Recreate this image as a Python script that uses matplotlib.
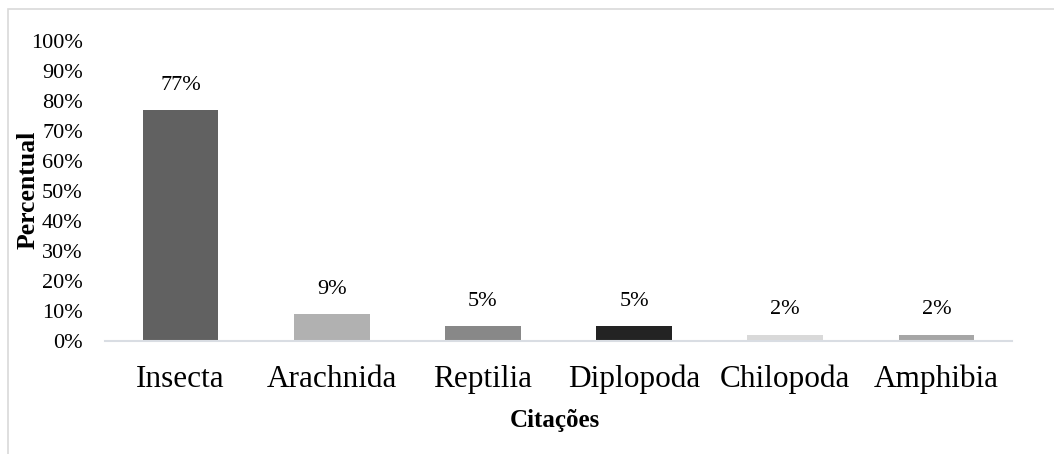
import matplotlib.pyplot as plt
from matplotlib.patches import Rectangle
from matplotlib.ticker import FuncFormatter

# Données
categories = ['Insecta', 'Arachnida', 'Reptilia', 'Diplopoda', 'Chilopoda', 'Amphibia']
valeurs = [0.77, 0.09, 0.05, 0.05, 0.02, 0.02]
etiquettes = ['77%', '9%', '5%', '5%', '2%', '2%']
couleurs = ['#616161', '#b1b1b1', '#888888', '#232323', '#d9d9d9', '#a6a6a6']

plt.rcParams['font.family'] = ['Liberation Serif', 'DejaVu Serif']

fig = plt.figure(figsize=(10.54, 4.54), dpi=100)
ax = fig.add_axes([105 / 1054, 1 - 341 / 454, 907 / 1054, 300 / 454])

x = list(range(len(categories)))
ax.bar(x, valeurs, width=0.5, color=couleurs)

# étiquettes au-dessus des barres
for xi, v, txt in zip(x, valeurs, etiquettes):
    ax.annotate(txt, (xi, v), xytext=(0, 18), textcoords='offset points',
                ha='center', va='center', fontsize=16)

ax.set_xlim(-0.5, 5.5)
ax.set_ylim(0, 1)
ax.set_yticks([i / 10 for i in range(11)])
ax.yaxis.set_major_formatter(FuncFormatter(lambda v, p: f"{round(v * 100)}%"))
ax.set_xticks(x)
ax.set_xticklabels(categories, fontsize=22.5)
ax.tick_params(axis='y', labelsize=16, length=0, pad=16)
ax.tick_params(axis='x', length=0, pad=17)

for s in ['top', 'right', 'left']:
    ax.spines[s].set_visible(False)
ax.spines['bottom'].set_color('#d9dde3')
ax.spines['bottom'].set_linewidth(1.5)

# titres des axes
fig.text(28 / 1054, 1 - 190 / 454, 'Percentual', rotation=90, ha='center',
         va='center', fontsize=18.5, fontweight='bold')
fig.text(555 / 1054, 1 - 421 / 454, 'Citações', ha='center', va='center',
         fontsize=18, fontweight='bold')

# cadre du graphique
fig.patches.append(Rectangle((8 / 1054, -0.1), 1.2, 1 - 9 / 454 + 0.1,
                             transform=fig.transFigure, fill=False,
                             edgecolor='#d9d9d9', linewidth=1.2))

fig.savefig('out.png', dpi=100)
